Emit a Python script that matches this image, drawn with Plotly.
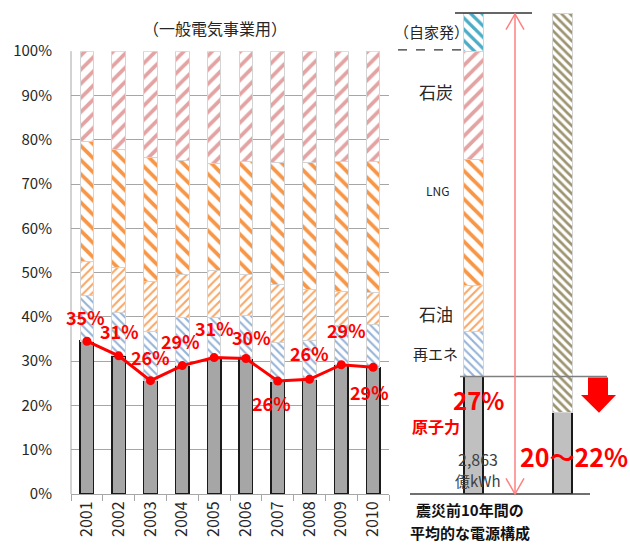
import plotly.graph_objects as go

# ---------------- data ----------------
years = ["2001", "2002", "2003", "2004", "2005", "2006", "2007", "2008", "2009", "2010"]
nuclear = [34.5, 31.2, 25.6, 29.0, 30.8, 30.6, 25.5, 25.9, 29.2, 28.6]
renewables = [10.3, 9.7, 11.1, 10.8, 9.0, 9.7, 8.6, 8.8, 8.9, 9.7]
oil = [7.7, 10.3, 11.4, 9.8, 10.6, 9.3, 13.2, 11.5, 7.6, 7.3]
lng = [27.1, 26.5, 27.9, 25.8, 24.2, 25.6, 27.5, 28.6, 29.3, 29.4]
coal = [20.4, 22.3, 24.0, 24.6, 25.4, 24.8, 25.2, 25.2, 25.0, 25.0]
nuclear_labels = [35, 31, 26, 29, 31, 30, 26, 26, 29, 29]

mix_cats = ["震災前10年間の平均", "見通し"]
mix_nuclear = [26.5, 18.4]
mix_renew = [10.3, None]
mix_oil = [10.2, None]
mix_lng = [28.6, None]
mix_coal = [24.4, None]
mix_selfgen = [8.4, None]
mix_other = [None, 90.0]

y_ticks = [0, 10, 20, 30, 40, 50, 60, 70, 80, 90, 100]

# ---------------- layout helpers ----------------
W, H = 630, 546
ML, MT, MB = 71, 2, 52
PW, PH = W - ML, H - MT - MB
BASE = H - MB


def PX(x):
    return (x - ML) / PW


def PY(y):
    return (BASE - y) / PH


FONT = "Noto Sans CJK JP"
RED = "#FF0000"

C_COAL = "#E3A3A3"
C_LNG = "#F79646"
C_OIL = "#F9A766"
C_REN = "#95B3D7"
C_SELF = "#4BACC6"
C_OTHER = "#9C9470"
OUTLINE = dict(color="#D4D4D4", width=1)


def pat(shape, fg, size, sol):
    return dict(shape=shape, fgcolor=fg, bgcolor="white", size=size, solidity=sol, fillmode="replace")


fig = go.Figure()

bw = 0.43
fig.add_trace(go.Bar(x=years, y=nuclear, width=bw, marker=dict(color="#A6A6A6", line=dict(color="#1A1A1A", width=1.5)), xaxis="x", yaxis="y"))
fig.add_trace(go.Bar(x=years, y=renewables, width=bw, marker=dict(color="white", pattern=pat("\\", C_REN, 6, 0.35), line=OUTLINE), xaxis="x", yaxis="y"))
fig.add_trace(go.Bar(x=years, y=oil, width=bw, marker=dict(color="white", pattern=pat("/", C_OIL, 6, 0.35), line=OUTLINE), xaxis="x", yaxis="y"))
fig.add_trace(go.Bar(x=years, y=lng, width=bw, marker=dict(color="white", pattern=pat("\\", C_LNG, 10, 0.38), line=OUTLINE), xaxis="x", yaxis="y"))
fig.add_trace(go.Bar(x=years, y=coal, width=bw, marker=dict(color="white", pattern=pat("/", C_COAL, 10, 0.38), line=OUTLINE), xaxis="x", yaxis="y"))

fig.add_trace(go.Scatter(x=years, y=nuclear, mode="lines+markers", line=dict(color=RED, width=3),
                         marker=dict(color=RED, size=9), xaxis="x", yaxis="y"))

# right panel
rw = 0.215
fig.add_trace(go.Bar(x=mix_cats, y=mix_nuclear, width=rw, marker=dict(color="#C0C0C0", line=dict(color="#1A1A1A", width=1.3)), xaxis="x2", yaxis="y2"))
fig.add_trace(go.Bar(x=mix_cats, y=mix_renew, width=rw, marker=dict(color="white", pattern=pat("\\", C_REN, 6, 0.35), line=OUTLINE), xaxis="x2", yaxis="y2"))
fig.add_trace(go.Bar(x=mix_cats, y=mix_oil, width=rw, marker=dict(color="white", pattern=pat("/", C_OIL, 6, 0.35), line=OUTLINE), xaxis="x2", yaxis="y2"))
fig.add_trace(go.Bar(x=mix_cats, y=mix_lng, width=rw, marker=dict(color="white", pattern=pat("\\", C_LNG, 10, 0.38), line=OUTLINE), xaxis="x2", yaxis="y2"))
fig.add_trace(go.Bar(x=mix_cats, y=mix_coal, width=rw, marker=dict(color="white", pattern=pat("/", C_COAL, 10, 0.38), line=OUTLINE), xaxis="x2", yaxis="y2"))
fig.add_trace(go.Bar(x=mix_cats, y=mix_selfgen, width=rw, marker=dict(color="white", pattern=pat("\\", C_SELF, 8, 0.4), line=OUTLINE), xaxis="x2", yaxis="y2"))
fig.add_trace(go.Bar(x=mix_cats, y=mix_other, width=rw, marker=dict(color="white", pattern=pat("\\", C_OTHER, 6, 0.45), line=OUTLINE), xaxis="x2", yaxis="y2"))

# ---------------- annotations ----------------
ann = []
offsets = [(-1, 24), (1, 25), (0, 24), (-2, 25), (0, 30), (6, 21), (-6, -22), (0, 26), (5, 35), (-4, -25)]
for i, (v, lab, (dx, dy)) in enumerate(zip(nuclear, nuclear_labels, offsets)):
    ann.append(dict(x=i, y=v, xref="x", yref="y", text=f"{lab}%", showarrow=False,
                    xanchor="center", yanchor="middle",
                    xshift=dx, yshift=dy, font=dict(family=FONT, size=18, color=RED, weight="bold")))


def txt(x, y, s, size, color="#262626", bold=False):
    ann.append(dict(x=PX(x), y=PY(y), xref="paper", yref="paper", text=s, showarrow=False,
                    xanchor="center", yanchor="middle",
                    font=dict(family=FONT, size=size, color=color, weight="bold" if bold else "normal")))


txt(215, 18, "（一般電気事業用）", 16)
txt(431, 22, "（自家発）", 15)
txt(436, 83, "石炭", 17)
txt(437, 184, "LNG", 12, "#262626")
txt(436, 310, "石油", 17)
txt(436, 351, "再エネ", 15)
txt(478, 398, "27%", 24, RED, True)
txt(436, 425, "原子力", 16, RED, True)
txt(478, 458, "2,863", 16, "#404040")
txt(478, 480, "億kWh", 15, "#404040")
txt(574, 455, "20〜22%", 25, RED, True)
txt(470, 510, "震災前10年間の", 15, "#111111", True)
txt(470, 533, "平均的な電源構成", 15, "#111111", True)

# ---------------- shapes ----------------
shapes = []


def line(x0, y0, x1, y1, color, width, dash="solid"):
    shapes.append(dict(type="line", xref="paper", yref="paper", x0=PX(x0), y0=PY(y0), x1=PX(x1), y1=PY(y1),
                       line=dict(color=color, width=width, dash=dash)))


def path(pts, color, width=0, fill=None, closed=False):
    d = "M " + " L ".join(f"{PX(x):.5f},{PY(y):.5f}" for x, y in pts)
    if closed:
        d += " Z"
    s = dict(type="path", xref="paper", yref="paper", path=d, line=dict(color=color, width=width))
    if fill:
        s["fillcolor"] = fill
    shapes.append(s)


# dashed 100% separator, top line, nuclear level line, baseline
line(398, 40.7, 464, 40.7, "#333333", 1.2, "dash")
line(455, 3, 532, 3, "#333333", 1.5)
line(460, 374, 607, 374, "#7F7F7F", 1.5)
line(410, 494, 590, 494, "#404040", 1.5)
# left axis line (0-100%)
line(71, 42, 71, 494, "#A6A6A6", 1)

# red double-headed arrow
AR = "#FF8080"
line(515, 4, 515, 494, AR, 1.5)
path([(506, 20), (515, 4), (524, 20)], AR, 1.5)
path([(506, 478), (515, 494), (524, 478)], AR, 1.5)

# red block arrow
path([(588, 375), (608, 375), (608, 393), (616, 393), (599, 411), (581, 393), (588, 393)], RED, 0, RED, True)

fig.update_layout(
    width=W, height=H,
    margin=dict(l=ML, r=0, t=MT, b=MB),
    paper_bgcolor="white", plot_bgcolor="rgba(0,0,0,0)",
    barmode="stack", showlegend=False,
    font=dict(family=FONT, color="#262626"),
    annotations=ann, shapes=shapes,
    xaxis=dict(domain=[0, 318 / PW], type="category", range=[-0.5, 9.5], tickson="boundaries",
               ticks="outside", ticklen=6, tickcolor="#A6A6A6", tickangle=-90,
               showline=True, linecolor="#A6A6A6", linewidth=1, showgrid=False,
               tickfont=dict(family=FONT, size=16, color="#262626"), anchor="y"),
    yaxis=dict(domain=[0, 452 / PH], range=[0, 100], tickvals=y_ticks,
               ticktext=[f"{v}%" for v in y_ticks], showgrid=True, gridcolor="#A6A6A6", gridwidth=1,
               showline=False, zeroline=False, ticks="", ticklabelstandoff=18,
               tickfont=dict(family=FONT, size=15, color="#262626"), anchor="x"),
    xaxis2=dict(domain=[(390 - ML) / PW, 1], type="category", range=[-0.938, 1.758],
                visible=False, anchor="y2"),
    yaxis2=dict(domain=[0, 1], range=[0, PH / 4.52], visible=False, anchor="x2"),
)

fig.write_html("out.html")
